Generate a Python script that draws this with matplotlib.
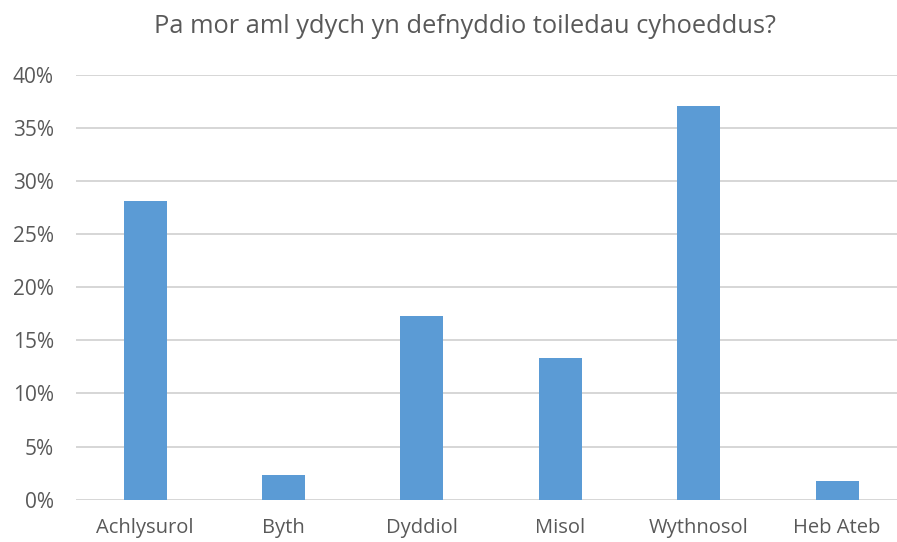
import matplotlib.pyplot as plt
from matplotlib.ticker import PercentFormatter

categories = ['Achlysurol', 'Byth', 'Dyddiol', 'Misol', 'Wythnosol', 'Heb Ateb']
values = [0.281, 0.023, 0.173, 0.133, 0.371, 0.018]
title = 'Pa mor aml ydych yn defnyddio toiledau cyhoeddus?'

plt.rcParams['font.family'] = ['Open Sans', 'DejaVu Sans']
text_col = '#595959'

fig = plt.figure(figsize=(8.97, 5.42), dpi=100)
ax = fig.add_axes([0.0847, 0.078, 0.9153, 0.784])

x = range(len(categories))
ax.bar(x, values, width=0.31, color='#5B9BD5', zorder=3)

ax.set_ylim(0, 0.40)
ax.set_xlim(-0.5, 5.433)
ax.set_yticks([i * 0.05 for i in range(9)])
ax.yaxis.set_major_formatter(PercentFormatter(1.0, decimals=0))
ax.set_xticks(list(x))
ax.set_xticklabels(categories)
ax.grid(axis='y', color='#D6D6D6', linewidth=1.4, zorder=0)
for s in ax.spines.values():
    s.set_visible(False)
ax.tick_params(length=0, colors=text_col)
ax.tick_params(axis='x', labelsize=14.5, pad=13)
ax.tick_params(axis='y', labelsize=15, pad=16)

fig.text(0.518, 0.952, title, ha='center', va='center', fontsize=18.3, color=text_col)

fig.savefig('out.png', dpi=100)
